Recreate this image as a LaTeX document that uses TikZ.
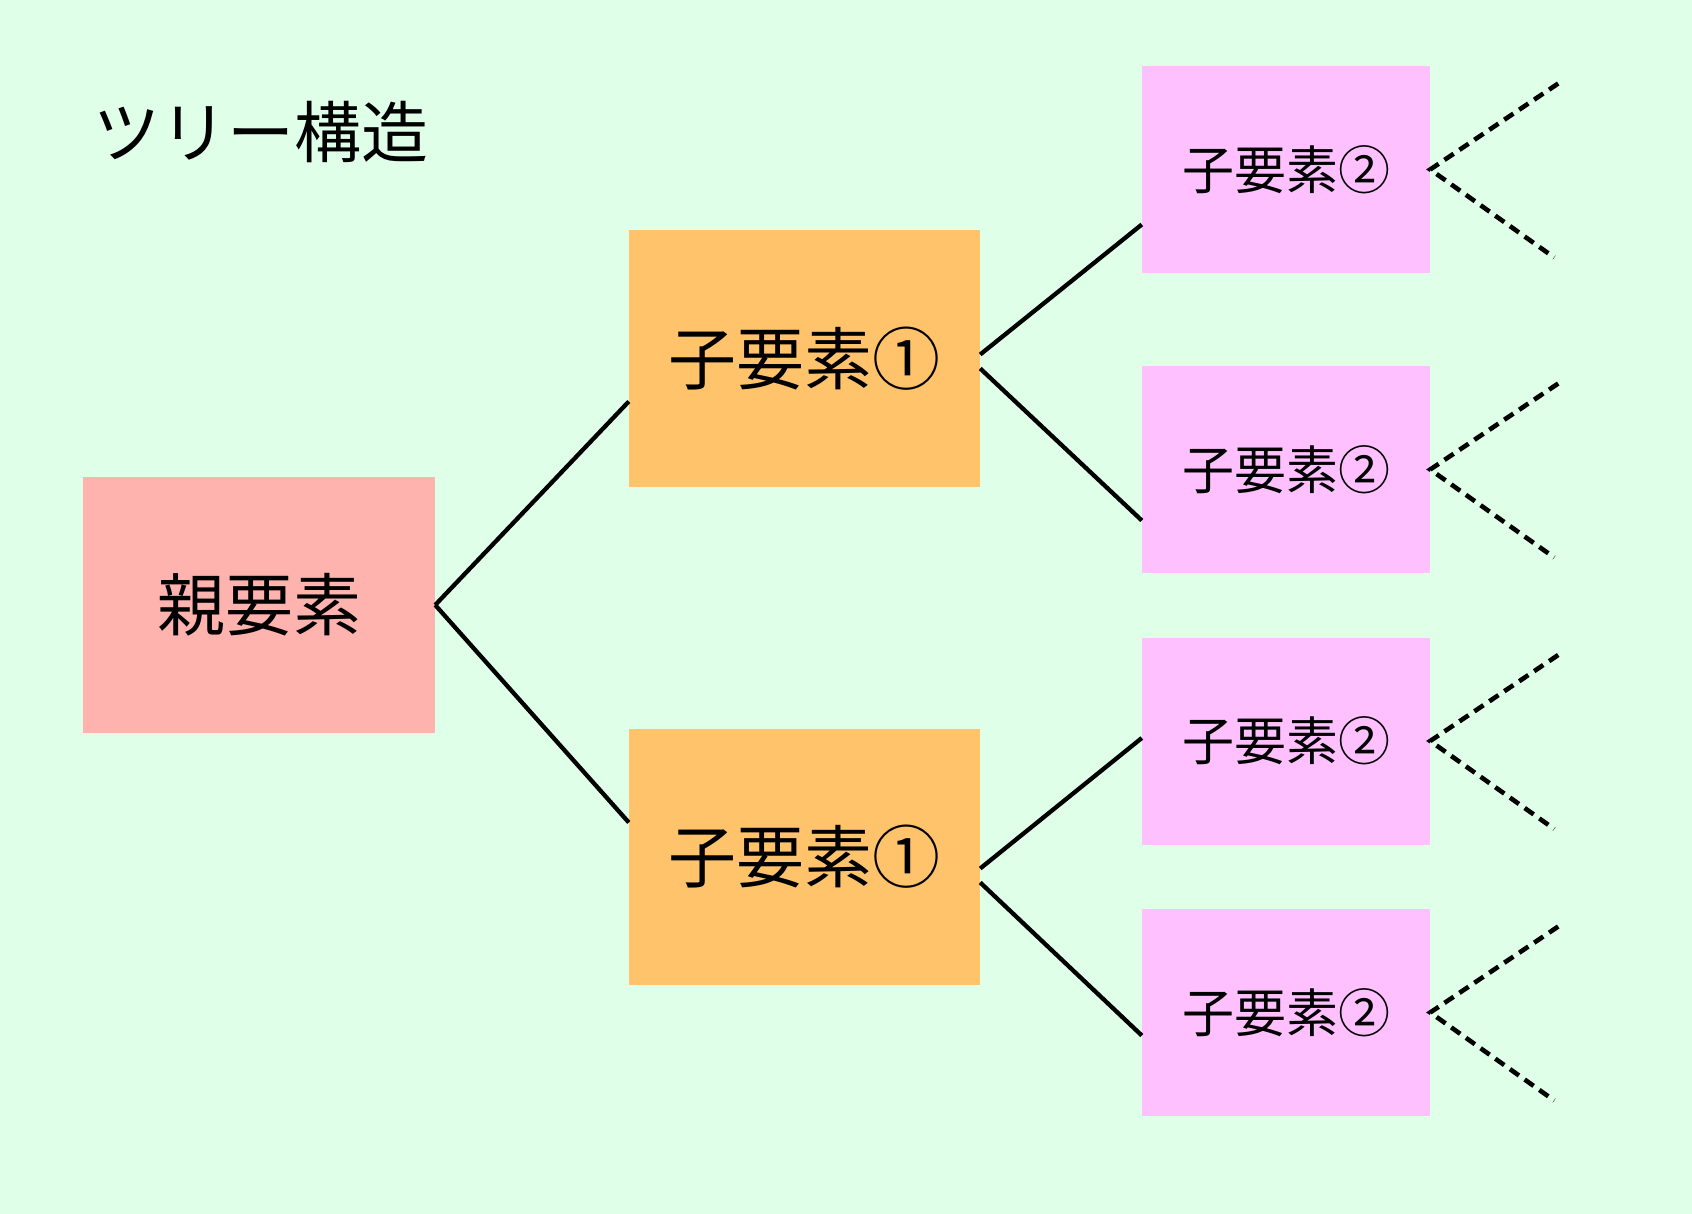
\documentclass[tikz,border=0pt]{standalone}
\usepackage{fontspec}
\newfontfamily\jpfont{Noto Sans CJK JP}
\definecolor{bgmint}{RGB}{224,255,232}
\definecolor{oyacol}{RGB}{255,179,174}
\definecolor{ko1col}{RGB}{255,195,108}
\definecolor{ko2col}{RGB}{255,192,255}

\begin{document}
\begin{tikzpicture}[
					x=1pt,y=-1pt,
					box/.style={rectangle,inner sep=0pt,font=\jpfont},
					oyabox/.style={box,fill=oyacol,minimum width=352pt,minimum height=256pt,font=\jpfont\fontsize{68}{80}\selectfont},
					ko1box/.style={box,fill=ko1col,minimum width=351pt,minimum height=256pt,font=\jpfont\fontsize{68}{80}\selectfont},
					ko2box/.style={box,fill=ko2col,minimum width=288pt,minimum height=207pt,font=\jpfont\fontsize{52}{62}\selectfont},
					edge/.style={line width=4.3pt},
					dotedge/.style={line width=4.6pt,dash pattern=on 11pt off 7pt},
					]
					\fill[bgmint] (0,0) rectangle (1692,1214);
					\useasboundingbox (0,0) rectangle (1692,1214);
					\node [anchor=west,inner sep=0pt,font=\jpfont\fontsize{67}{80}\selectfont] (title) at (93,132) {ツリー構造};
					\node [oyabox] (oya) at (259,605) {親要素};
					\node [ko1box] (koA) at (804.5,358.5) {子要素①};
					\node [ko1box] (koB) at (804.5,856.5) {子要素①};
					\node [ko2box] (magoA) at (1286,169.5) {子要素②};
					\node [ko2box] (magoB) at (1286,469.5) {子要素②};
					\node [ko2box] (magoC) at (1286,741) {子要素②};
					\node [ko2box] (magoD) at (1286,1012.5) {子要素②};
					\draw[edge] (oya.east) -- ([yshift=-43pt]koA.west);
					\draw[edge] (oya.east) -- ([yshift=34pt]koB.west);
					\draw[edge] ([yshift=4pt]koA.east) -- ([yshift=-55pt]magoA.west);
					\draw[edge] ([yshift=-10pt]koA.east) -- ([yshift=-51pt]magoB.west);
					\draw[edge] ([yshift=-12pt]koB.east) -- ([yshift=3pt]magoC.west);
					\draw[edge] ([yshift=-26pt]koB.east) -- ([yshift=-23pt]magoD.west);
					\foreach \m in {magoA,magoB,magoC,magoD}{
						\coordinate (\m-up) at ([shift={(128,-86)}]\m.east);
						\coordinate (\m-dn) at ([shift={(124,88)}]\m.east);
						\draw[dotedge] (\m-up) -- (\m.east) -- (\m-dn);
					}
				\end{tikzpicture}
\end{document}
